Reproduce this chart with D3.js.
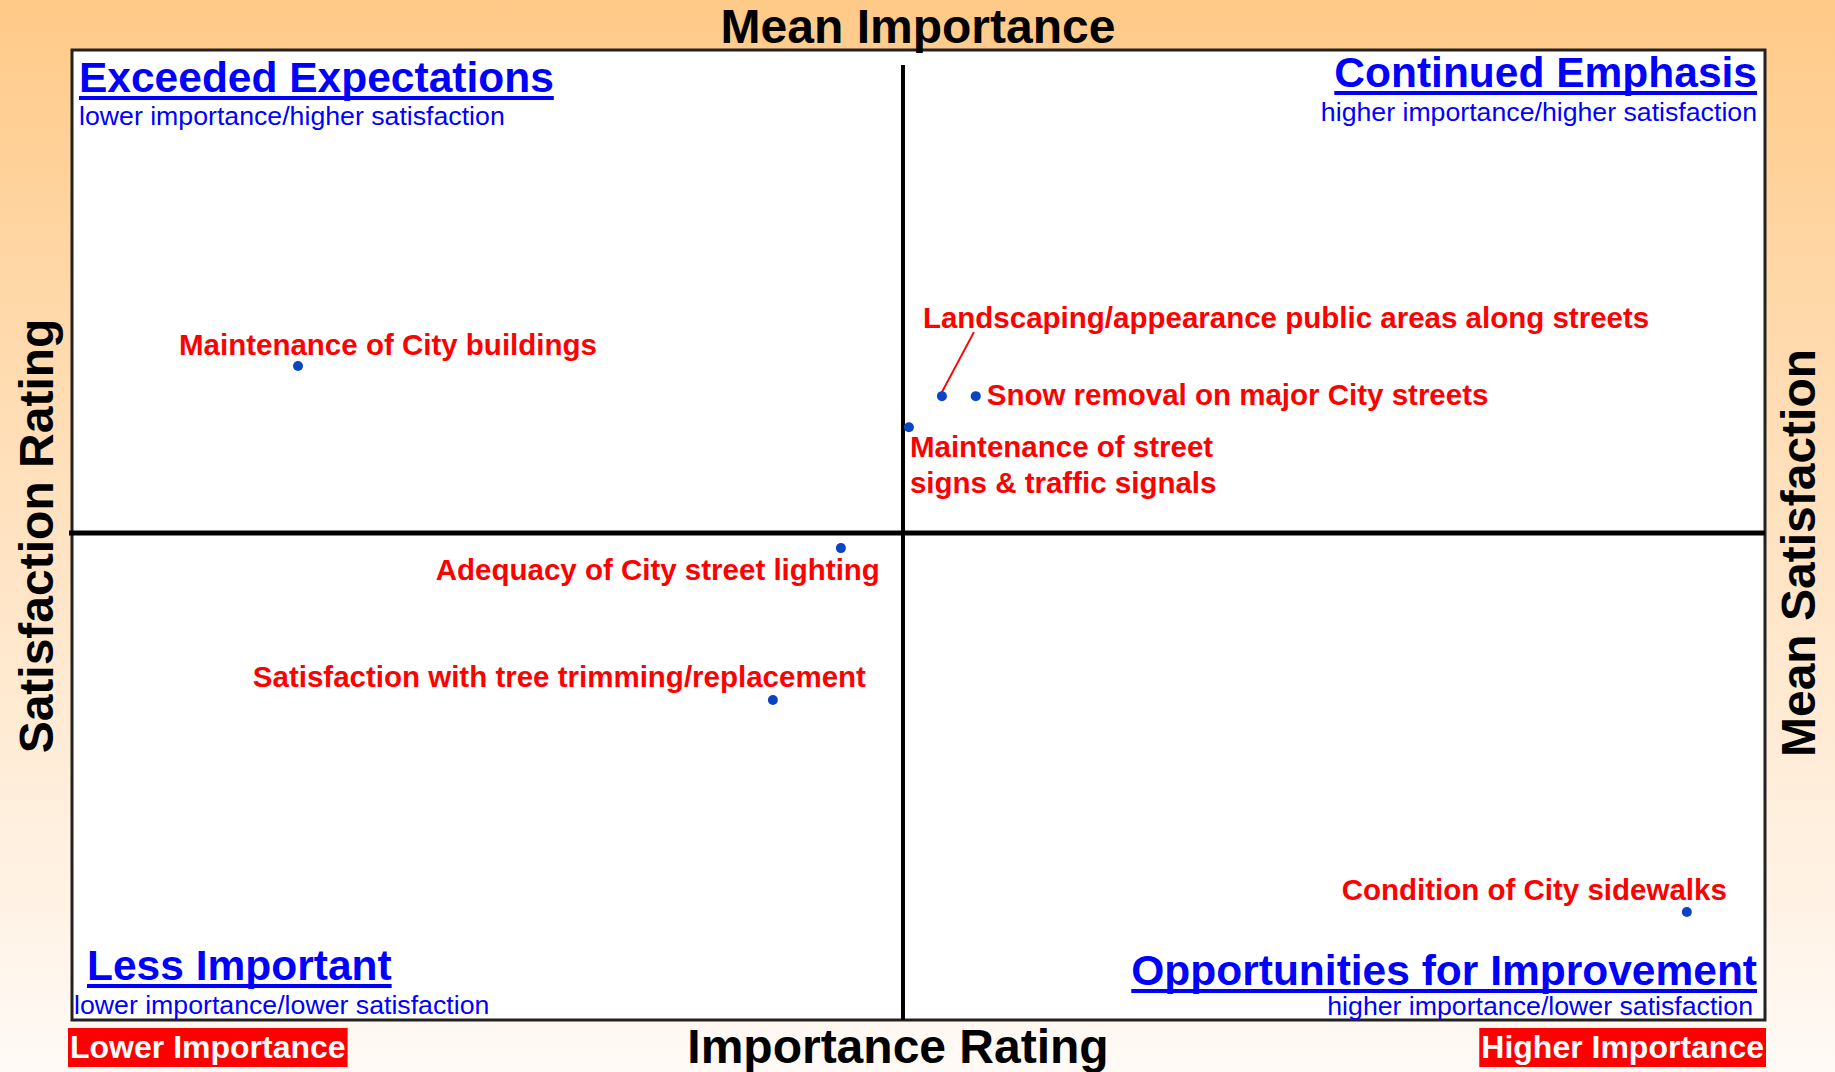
<!DOCTYPE html>
<html>
<head>
<meta charset="utf-8">
<script src="https://cdn.jsdelivr.net/npm/d3@7"></script>
<style>
  body { margin: 0; padding: 0; background: #fff; }
  svg { display: block; }
</style>
</head>
<body>
<div id="chart"></div>
<script>
// survey items (importance % vs satisfaction %)
var items = [
  'Maintenance of City buildings',
  'Landscaping/appearance public areas along streets',
  'Snow removal on major City streets',
  'Maintenance of street|signs & traffic signals',
  'Adequacy of City street lighting',
  'Satisfaction with tree trimming/replacement',
  'Condition of City sidewalks'
];
var importance   = [8.01, 30.83, 32.03, 29.66, 27.25, 24.84, 57.23];
var satisfaction = [70.45, 68.59, 68.59, 66.67, 59.19, 49.79, 36.68];

var meanImportance = 29.45;
var meanSatisfaction = 60.12;

var importanceDomain = [0, 60];
var satisfactionDomain = [30, 90];

var quadTitles = ['Exceeded Expectations', 'Continued Emphasis', 'Less Important', 'Opportunities for Improvement'];
var quadSubs = ['lower importance/higher satisfaction', 'higher importance/higher satisfaction',
                'lower importance/lower satisfaction', 'higher importance/lower satisfaction'];

// label placement, relative to each point
var labelLayout = [
  {dx: -119, dy: -11, anchor: 'start'},
  {dx: -19,  dy: -68, anchor: 'start', leader: true},
  {dx: 11,   dy: 9,   anchor: 'start'},
  {dx: 1,    dy: 30,  anchor: 'start'},
  {dx: 39,   dy: 32,  anchor: 'end'},
  {dx: 93,   dy: -13, anchor: 'end'},
  {dx: 40,   dy: -12, anchor: 'end'}
];

var width = 1835;
var height = 1072;
var frame = {left: 72, top: 50, right: 1765, bottom: 1020};
var font = '"Liberation Sans", Arial, Helvetica, sans-serif';

var svg = d3.select('#chart').append('svg')
    .attr('width', width)
    .attr('height', height);

var grad = svg.append('defs').append('linearGradient')
    .attr('id', 'bg')
    .attr('x1', 0).attr('y1', 0).attr('x2', 0).attr('y2', 1);
grad.append('stop').attr('offset', '0%').attr('stop-color', '#ffca88');
grad.append('stop').attr('offset', '50%').attr('stop-color', '#ffe3c2');
grad.append('stop').attr('offset', '100%').attr('stop-color', '#fffaf6');

svg.append('rect')
    .attr('width', width).attr('height', height)
    .attr('fill', 'url(#bg)');

var x = d3.scaleLinear().domain(importanceDomain).range([frame.left, frame.right]);
var y = d3.scaleLinear().domain(satisfactionDomain).range([frame.bottom, frame.top]);

// plot frame
svg.append('rect')
    .attr('x', frame.left).attr('y', frame.top)
    .attr('width', frame.right - frame.left)
    .attr('height', frame.bottom - frame.top)
    .attr('fill', '#fff')
    .attr('stroke', '#222')
    .attr('stroke-width', 3);

// mean lines
svg.append('line')
    .attr('x1', x(meanImportance)).attr('x2', x(meanImportance))
    .attr('y1', frame.top + 15).attr('y2', frame.bottom)
    .attr('stroke', '#000').attr('stroke-width', 4);
svg.append('line')
    .attr('x1', frame.left - 3).attr('x2', frame.right)
    .attr('y1', y(meanSatisfaction)).attr('y2', y(meanSatisfaction))
    .attr('stroke', '#000').attr('stroke-width', 5);

function print(txt, px, py, size, weight, color, anchor) {
  return svg.append('text')
      .attr('x', px)
      .attr('y', py)
      .style('font-family', font)
      .style('font-size', size + 'px')
      .style('font-weight', weight)
      .style('fill', color)
      .style('text-anchor', anchor || 'start')
      .text(txt);
}

function underlined(txt, px, py, anchor) {
  var t = print(txt, px, py, 42.5, 'bold', '#0000ff', anchor);
  var w = t.node().getComputedTextLength();
  var x0 = anchor === 'end' ? px - w : px;
  svg.append('rect')
      .attr('x', x0).attr('y', py + 4)
      .attr('width', w).attr('height', 4)
      .attr('fill', '#0000ff');
}

// quadrant headings
underlined(quadTitles[0], 79, 92, 'start');
print(quadSubs[0], 79, 125, 26.7, 'normal', '#0000ff', 'start');
underlined(quadTitles[1], 1757, 87, 'end');
print(quadSubs[1], 1757, 121, 26.7, 'normal', '#0000ff', 'end');
underlined(quadTitles[2], 87, 980, 'start');
print(quadSubs[2], 74, 1014, 26.7, 'normal', '#0000ff', 'start');
underlined(quadTitles[3], 1757, 985, 'end');
print(quadSubs[3], 1753, 1015, 26.7, 'normal', '#0000ff', 'end');

// leader lines
items.forEach(function (d, i) {
  if (!labelLayout[i].leader) return;
  var cx = x(importance[i]), cy = y(satisfaction[i]);
  svg.append('line')
      .attr('x1', cx).attr('y1', cy - 4)
      .attr('x2', cx + 32).attr('y2', cy - 64)
      .attr('stroke', '#ff0000').attr('stroke-width', 2);
});

// points
svg.selectAll('circle.pt')
    .data(items)
    .enter().append('circle')
    .attr('class', 'pt')
    .attr('cx', function (d, i) { return x(importance[i]); })
    .attr('cy', function (d, i) { return y(satisfaction[i]); })
    .attr('r', 5)
    .attr('fill', '#0a44c4');

// point labels
items.forEach(function (d, i) {
  var L = labelLayout[i];
  var cx = x(importance[i]), cy = y(satisfaction[i]);
  var lines = d.split('|');
  lines.forEach(function (ln, k) {
    print(ln, cx + L.dx, cy + L.dy + k * 36, 29.5, 'bold', '#ff0000', L.anchor);
  });
});

// axis titles
print('Mean Importance', 918, 43, 48, 'bold', '#000', 'middle');
print('Importance Rating', 898, 1063, 48, 'bold', '#000', 'middle');
print('Satisfaction Rating', 0, 0, 48, 'bold', '#000', 'middle')
    .attr('transform', 'translate(53,536) rotate(-90)');
print('Mean Satisfaction', 0, 0, 48, 'bold', '#000', 'middle')
    .attr('transform', 'translate(1815,553) rotate(-90)');

// importance end tags
function tag(txt, px, py, anchor) {
  var t = print(txt, px, py, 32, 'bold', '#fff', anchor);
  var w = t.node().getComputedTextLength();
  var x0 = anchor === 'end' ? px - w : px;
  svg.insert('rect', function () { return t.node(); })
      .attr('x', x0 - 2).attr('y', 1028)
      .attr('width', w + 4).attr('height', 39)
      .attr('fill', '#ff0000');
}
tag('Lower Importance', 70, 1058, 'start');
tag('Higher Importance', 1764, 1058, 'end');
</script>
</body>
</html>
